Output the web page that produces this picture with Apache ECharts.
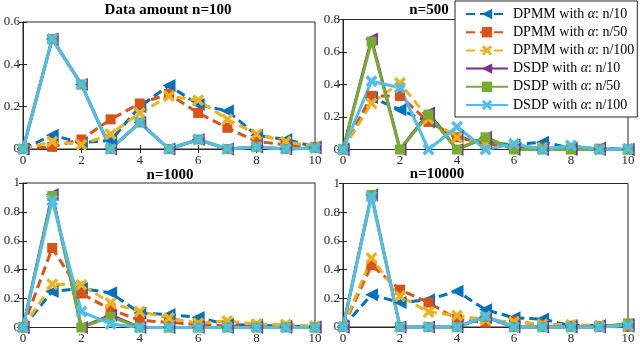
<!DOCTYPE html>
<html>
<head>
<meta charset="utf-8">
<script src="https://cdn.jsdelivr.net/npm/echarts@6/dist/echarts.min.js"></script>
<style>
  html, body { margin: 0; padding: 0; background: #fff; }
  #chart { width: 640px; height: 346px; }
</style>
</head>
<body>
<div id="chart"></div>
<script>
  // x positions (number of clusters)
  const xs = [0, 1, 2, 3, 4, 5, 6, 7, 8, 9, 10];

  const seriesNames = [
    'DPMM with α: n/10', 'DPMM with α: n/50', 'DPMM with α: n/100',
    'DSDP with α: n/10', 'DSDP with α: n/50', 'DSDP with α: n/100'
  ];

  // n=100
  const n100_dpmm10  = [0, 0.065, 0.03, 0.04, 0.2, 0.3, 0.21, 0.18, 0.065, 0.045, 0.01];
  const n100_dpmm50  = [0, 0.01, 0.045, 0.14, 0.215, 0.26, 0.17, 0.1, 0.035, 0.02, 0.01];
  const n100_dpmm100 = [0, 0.035, 0.02, 0.07, 0.17, 0.25, 0.23, 0.14, 0.07, 0.035, 0.01];
  const n100_dsdp10  = [0, 0.52, 0.305, 0, 0.125, 0, 0.045, 0, 0.01, 0, 0.005];
  const n100_dsdp50  = [0, 0.52, 0.305, 0, 0.125, 0, 0.045, 0, 0.01, 0, 0.005];
  const n100_dsdp100 = [0, 0.52, 0.305, 0, 0.125, 0, 0.045, 0, 0.01, 0, 0.005];

  // n=500
  const n500_dpmm10  = [0, 0.32, 0.245, 0.17, 0.08, 0.04, 0.03, 0.045, 0.01, 0.01, 0];
  const n500_dpmm50  = [0, 0.33, 0.33, 0.17, 0.075, 0.035, 0.015, 0.01, 0.005, 0.005, 0];
  const n500_dpmm100 = [0, 0.285, 0.41, 0.19, 0.075, 0.035, 0.02, 0.01, 0.005, 0, 0];
  const n500_dsdp10  = [0, 0.68, 0, 0.225, 0, 0.075, 0, 0, 0, 0, 0];
  const n500_dsdp50  = [0, 0.665, 0, 0.215, 0, 0.075, 0, 0, 0, 0, 0];
  const n500_dsdp100 = [0, 0.42, 0.38, 0, 0.14, 0, 0.035, 0, 0.025, 0, 0.005];

  // n=1000
  const n1000_dpmm10  = [0, 0.25, 0.27, 0.24, 0.1, 0.09, 0.07, 0.02, 0.015, 0.01, 0.005];
  const n1000_dpmm50  = [0, 0.55, 0.235, 0.125, 0.05, 0.035, 0.02, 0.01, 0.01, 0.005, 0];
  const n1000_dpmm100 = [0, 0.3, 0.295, 0.17, 0.11, 0.065, 0.03, 0.045, 0.025, 0.02, 0.01];
  const n1000_dsdp10  = [0, 0.92, 0, 0.085, 0, 0, 0, 0, 0, 0, 0];
  const n1000_dsdp50  = [0, 0.91, 0, 0.075, 0, 0, 0, 0, 0, 0, 0];
  const n1000_dsdp100 = [0, 0.88, 0.11, 0.025, 0, 0, 0, 0, 0, 0, 0];

  // n=10000
  const n10000_dpmm10  = [0, 0.225, 0.17, 0.19, 0.25, 0.12, 0.065, 0.055, 0.01, 0.01, 0.005];
  const n10000_dpmm50  = [0, 0.43, 0.26, 0.17, 0.055, 0.03, 0.04, 0.015, 0.01, 0.005, 0];
  const n10000_dpmm100 = [0, 0.48, 0.215, 0.105, 0.08, 0.05, 0.035, 0.02, 0.015, 0.01, 0.005];
  const n10000_dsdp10  = [0, 0.92, 0, 0, 0, 0.07, 0, 0, 0, 0, 0.02];
  const n10000_dsdp50  = [0, 0.92, 0, 0, 0, 0.07, 0, 0, 0, 0, 0.025];
  const n10000_dsdp100 = [0, 0.91, 0, 0, 0, 0.075, 0, 0, 0, 0, 0.01];

  const panelTitles = ['Data amount n=100', 'n=500', 'n=1000', 'n=10000'];
  const panelYMax = [0.6, 0.8, 1, 1];
  const panelData = [
    [n100_dpmm10, n100_dpmm50, n100_dpmm100, n100_dsdp10, n100_dsdp50, n100_dsdp100],
    [n500_dpmm10, n500_dpmm50, n500_dpmm100, n500_dsdp10, n500_dsdp50, n500_dsdp100],
    [n1000_dpmm10, n1000_dpmm50, n1000_dpmm100, n1000_dsdp10, n1000_dsdp50, n1000_dsdp100],
    [n10000_dpmm10, n10000_dpmm50, n10000_dpmm100, n10000_dsdp10, n10000_dsdp50, n10000_dsdp100]
  ];

  const AX = '#262626';
  const FONT = '"Liberation Serif", "DejaVu Serif", serif';
  const colors = ['#0072BD', '#D95319', '#EDB120', '#7E2F8E', '#77AC30', '#4DBEEE'];
  const cross = 'path://M2,0L5,3L8,0L10,2L7,5L10,8L8,10L5,7L2,10L0,8L3,5L0,2Z';
  const symbols = ['triangle', 'rect', cross, 'triangle', 'rect', cross];
  const symbolSizes = [13, 10, 12, 13, 10, 12];
  const symbolRot = [90, 0, 0, 90, 0, 0];

  const grids = [
    { left: 23, top: 22, width: 292, height: 127 },
    { left: 343, top: 19.5, width: 285, height: 130 },
    { left: 23, top: 183, width: 292, height: 144.5 },
    { left: 343, top: 183.5, width: 285, height: 143.5 }
  ];
  const titlePos = [[168, 3], [429, 3], [170, 168], [437, 167]];

  let xAxes = [], yAxes = [], series = [];
  grids.forEach((g, i) => {
    g.show = true;
    g.borderColor = AX;
    g.borderWidth = 1;
    g.backgroundColor = 'transparent';
    // bottom and left axes with labels
    xAxes.push({
      gridIndex: i, type: 'value', min: 0, max: 10, interval: 2,
      axisLine: { lineStyle: { color: AX } },
      axisTick: { inside: true, length: 4, lineStyle: { color: AX } },
      axisLabel: { color: AX, fontFamily: FONT, fontSize: 13, margin: 5 },
      splitLine: { show: false }
    });
    yAxes.push({
      gridIndex: i, type: 'value', min: 0, max: panelYMax[i], interval: 0.2,
      axisLine: { show: true, lineStyle: { color: AX } },
      axisTick: { show: true, inside: true, length: 4, lineStyle: { color: AX } },
      axisLabel: { color: AX, fontFamily: FONT, fontSize: 13, margin: 3 },
      splitLine: { show: false }
    });
  });
  // mirror ticks on top and right
  grids.forEach((g, i) => {
    xAxes.push({
      gridIndex: i, type: 'value', position: 'top', min: 0, max: 10, interval: 2,
      axisLine: { show: false },
      axisTick: { inside: true, length: 4, lineStyle: { color: AX } },
      axisLabel: { show: false }, splitLine: { show: false }
    });
    yAxes.push({
      gridIndex: i, type: 'value', position: 'right', min: 0, max: panelYMax[i], interval: 0.2,
      axisLine: { show: false },
      axisTick: { show: true, inside: true, length: 4, lineStyle: { color: AX } },
      axisLabel: { show: false }, splitLine: { show: false }
    });
  });

  panelData.forEach((arrs, p) => {
    arrs.forEach((vals, k) => {
      series.push({
        name: seriesNames[k],
        type: 'line',
        xAxisIndex: p,
        yAxisIndex: p,
        data: xs.map((x, j) => [x, vals[j]]),
        symbol: symbols[k],
        symbolSize: symbolSizes[k],
        symbolRotate: symbolRot[k],
        clip: false,
        color: colors[k],
        itemStyle: { color: colors[k] },
        lineStyle: {
          color: colors[k], width: 3,
          type: k < 3 ? [9, 5] : 'solid'
        },
        emphasis: { disabled: true },
        animation: false
      });
    });
  });

  const option = {
    animation: false,
    backgroundColor: '#fff',
    title: panelTitles.map((t, i) => ({
      text: t,
      left: titlePos[i][0], top: titlePos[i][1], textAlign: 'center',
      padding: 0,
      textStyle: { fontFamily: FONT, fontWeight: 'bold', fontSize: 15, color: '#000' }
    })),
    legend: {
      data: seriesNames,
      orient: 'vertical',
      left: 455, top: 1,
      itemWidth: 42, itemHeight: 13, itemGap: 4.2,
      padding: [6, 3, 5, 10],
      backgroundColor: '#fff',
      borderColor: AX, borderWidth: 1,
      formatter: name => '{a|' + name.replace('α', '}{i|α}{a|') + '}',
      textStyle: {
        color: '#000', fontFamily: FONT, fontSize: 14,
        rich: {
          a: { fontFamily: FONT, fontSize: 14, color: '#000' },
          i: { fontFamily: FONT, fontSize: 14, fontStyle: 'italic', color: '#000' }
        }
      }
    },
    grid: grids,
    xAxis: xAxes,
    yAxis: yAxes,
    series: series
  };

  echarts.init(document.getElementById('chart')).setOption(option);
</script>
</body>
</html>
